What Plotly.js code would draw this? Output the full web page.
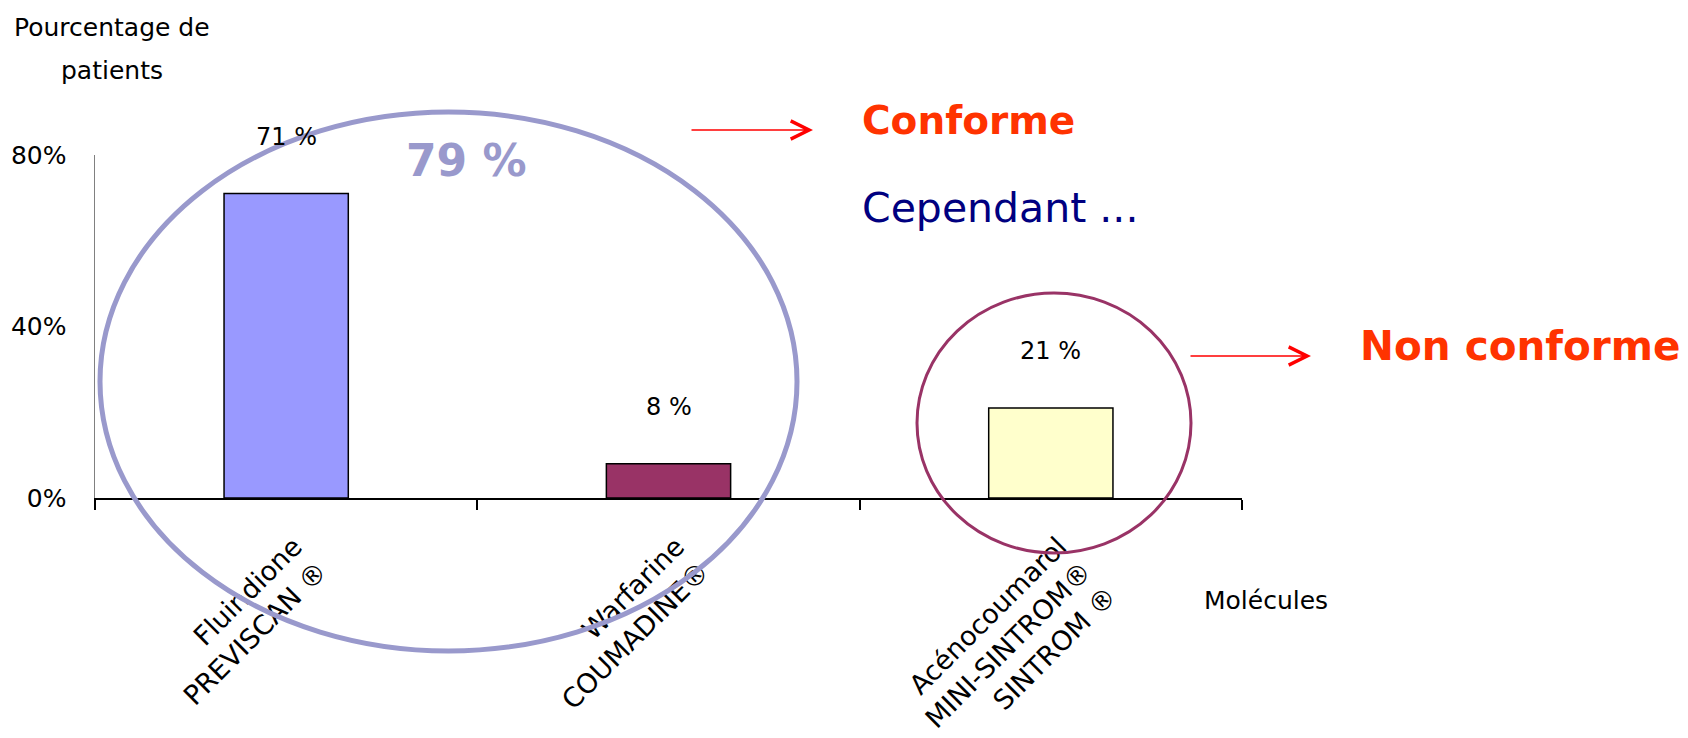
<!DOCTYPE html>
<html>
<head>
<meta charset="utf-8">
<script src="https://cdn.plot.ly/plotly-3.0.1.min.js"></script>
<style>html,body{margin:0;padding:0;background:#fff;}#chart{width:1688px;height:738px;}</style>
</head>
<body>
<div id="chart"></div>
<script>
const categories = ["Fluindione<br>PREVISCAN ®", "Warfarine<br>COUMADINE®", "Acénocoumarol<br>MINI-SINTROM®<br>SINTROM ®"];
const values = [0.71, 0.08, 0.21];
const barColors = ["#9999FF", "#993366", "#FFFFCC"];
const yTickVals = [0, 0.4, 0.8];
const yTickText = ["0%", "40%", "80%"];

const FONT = "DejaVu Sans";
const W = 1688, H = 738;
const L = 95, R = 446, T = 155, B = 240;
const pw = W - L - R, ph = H - T - B;
const px = x => (x - L) / pw;
const py = y => (H - B - y) / ph;

const trace = {
  type: "bar",
  x: categories,
  y: values,
  marker: {color: barColors, line: {color: "#000", width: 1.5}},
  hoverinfo: "none"
};

const annotations = values.map((v, i) => ({
  x: categories[i], y: v, xref: "x", yref: "y",
  text: Math.round(v * 100) + " %", showarrow: false,
  yshift: 57, font: {family: FONT, size: 24, color: "#000"}
}));

annotations.push(
  {x: px(112), y: py(27), xref: "paper", yref: "paper", text: "Pourcentage de", showarrow: false, xanchor: "center", yanchor: "middle", font: {family: FONT, size: 25, color: "#000"}},
  {x: px(112), y: py(70), xref: "paper", yref: "paper", text: "patients", showarrow: false, xanchor: "center", yanchor: "middle", font: {family: FONT, size: 25, color: "#000"}},
  {x: px(1202), y: py(600), xref: "paper", yref: "paper", text: "Molécules", showarrow: false, xanchor: "left", yanchor: "middle", font: {family: FONT, size: 25, color: "#000"}},
  {x: px(466), y: py(160), xref: "paper", yref: "paper", text: "<b>79 %</b>", showarrow: false, xanchor: "center", yanchor: "middle", font: {family: FONT, size: 44, color: "#9999CC"}},
  {x: px(860), y: py(120), xref: "paper", yref: "paper", text: "<b>Conforme</b>", showarrow: false, xanchor: "left", yanchor: "middle", font: {family: FONT, size: 39, color: "#FF3300"}},
  {x: px(860), y: py(208), xref: "paper", yref: "paper", text: "Cependant ...", showarrow: false, xanchor: "left", yanchor: "middle", font: {family: FONT, size: 41, color: "#000080"}},
  {x: px(1358), y: py(346), xref: "paper", yref: "paper", text: "<b>Non conforme</b>", showarrow: false, xanchor: "left", yanchor: "middle", font: {family: FONT, size: 40.5, color: "#FF3300"}},
  {x: px(813), y: py(130), xref: "paper", yref: "paper", text: "", showarrow: true, ax: -123, ay: 0, axref: "pixel", ayref: "pixel", arrowhead: 5, arrowsize: 2.4, arrowwidth: 1.5, arrowcolor: "#FF0000"},
  {x: px(1311), y: py(356), xref: "paper", yref: "paper", text: "", showarrow: true, ax: -122, ay: 0, axref: "pixel", ayref: "pixel", arrowhead: 5, arrowsize: 2.4, arrowwidth: 1.5, arrowcolor: "#FF0000"}
);

const shapes = [
  {type: "circle", xref: "paper", yref: "paper", x0: px(100), x1: px(797), y0: py(651), y1: py(112), line: {color: "#9999CC", width: 5}, layer: "above"},
  {type: "circle", xref: "paper", yref: "paper", x0: px(917), x1: px(1191), y0: py(553), y1: py(293), line: {color: "#993366", width: 3}, layer: "above"}
];

const layout = {
  width: W, height: H,
  margin: {l: L, r: R, t: T, b: B, pad: 0},
  paper_bgcolor: "#fff", plot_bgcolor: "#fff",
  showlegend: false,
  bargap: 0.675,
  font: {family: FONT, size: 24, color: "#000"},
  xaxis: {
    type: "category", range: [-0.5, 2.5], fixedrange: true,
    showline: true, linecolor: "#000", linewidth: 2,
    showgrid: false, zeroline: false,
    ticks: "outside", tickson: "boundaries", ticklen: 10, tickwidth: 2, tickcolor: "#000",
    ticklabelstandoff: 20, ticklabelshift: 8,
    tickangle: -45, tickfont: {family: FONT, size: 27, color: "#000"}
  },
  yaxis: {
    range: [0, 0.8], fixedrange: true,
    showline: true, linecolor: "#808080", linewidth: 1.5,
    showgrid: false, zeroline: false,
    tickvals: yTickVals, ticktext: yTickText,
    ticks: "outside", ticklen: 22, tickcolor: "rgba(0,0,0,0)",
    tickfont: {family: FONT, size: 25, color: "#000"}
  },
  annotations: annotations,
  shapes: shapes
};

Plotly.newPlot("chart", [trace], layout, {staticPlot: true, displayModeBar: false});
</script>
</body>
</html>
